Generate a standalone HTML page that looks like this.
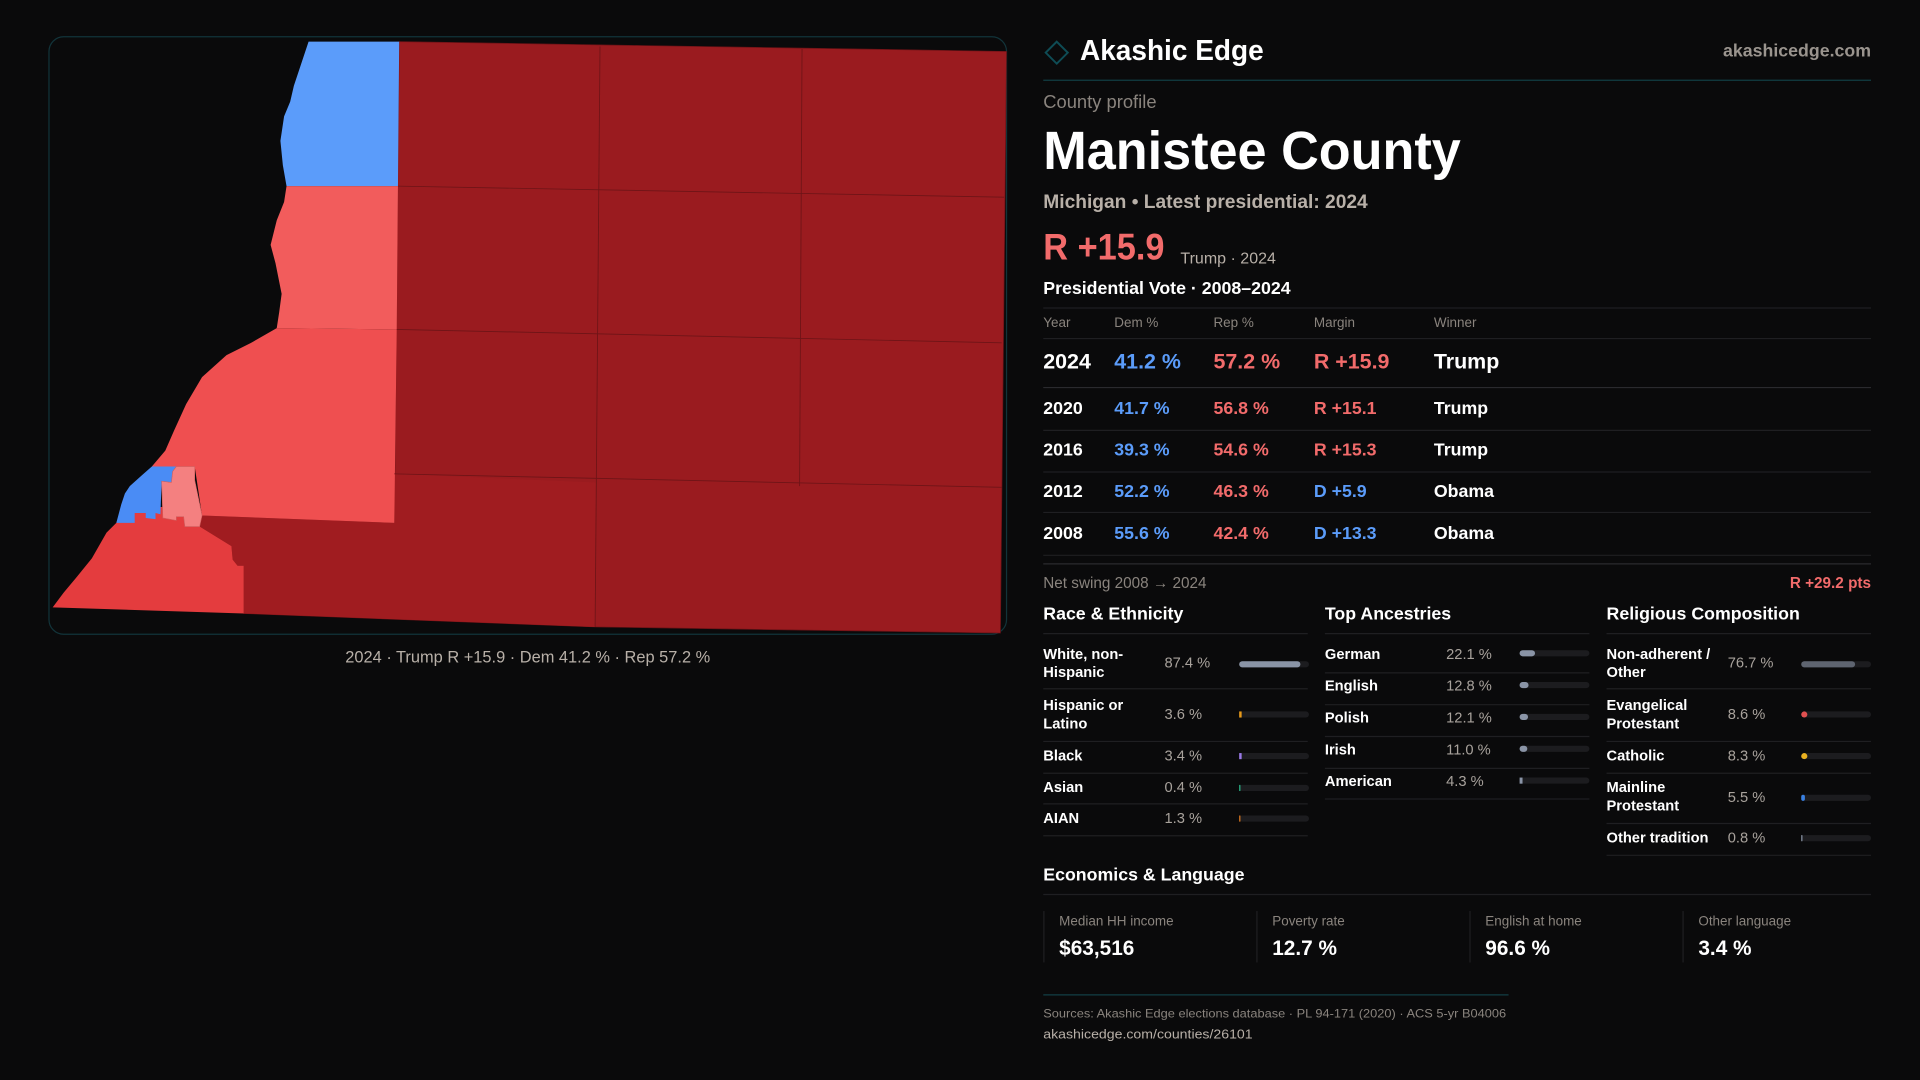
<!DOCTYPE html>
<html><head><meta charset="utf-8"><style>
html,body{margin:0;padding:0;background:#0a0a0b;}
svg{display:block;}
text{font-family:"Liberation Sans",sans-serif;}
</style></head><body>
<svg width="1920" height="1080" viewBox="0 0 1568 882" xmlns="http://www.w3.org/2000/svg">
<rect width="1568" height="882" fill="#0a0a0b"/>
<!-- map frame -->
<rect x="40" y="30" width="782" height="488" rx="12" fill="#0a0a0b" stroke="#12343a" stroke-width="1"/>
<g stroke="#6a1216" stroke-width="0.6">
<polygon fill="#9a1b1f" points="326,34 822,42 817,517 486,512 199,501 199,462 194,462 190,457 189,446 163,430 165,421 322,427"/>
<polygon fill="#a01c20" stroke="none" points="322,387 487,394 486,512 199,501 199,462 194,462 190,457 189,446 163,430 165,421 322,427"/>
<polygon fill="#e43c3e" stroke="none" points="43,496 52,484 62,472 75,456 87,435 95,427 100,414 160,414 165,421 163,430 189,446 190,457 194,462 199,462 199,501"/>
<polygon fill="#5b9cfa" stroke="none" points="252,34 326,34 325,152 234,152 231,135 229,115 232,95 237,83 240,70 245,55"/>
<polygon fill="#f25c5c" stroke="none" points="234,152 325,152 324,269 226,268 228,255 230,240 225,215 221,200 226,180 232,165"/>
<polygon fill="#ef4f50" stroke="none" points="226,268 324,269 322,427 165,421 159,381 124,381 135,368 142,352 152,330 165,308 185,290 205,280"/>
<polygon fill="#4a8cf5" stroke="none" points="124,381 144,381 141,385 140,394 132,393 131,420 127,419 127,424 119,423 119,419 110,419 110,427 95,427 99,412 102,403 106,397 116,388"/>
<polygon fill="#f48080" stroke="#d06060" stroke-width="0.5" points="144,381 159,381 159,392 165,421 163,430 151,430 150,422 144,422 144,425 133,423 132,393 140,394 141,385"/>
</g>
<g stroke="#6e1417" stroke-width="0.7" fill="none">
<line x1="490" y1="38" x2="486" y2="512"/>
<line x1="655" y1="40" x2="653" y2="397"/>
<line x1="325" y1="152" x2="820" y2="161"/>
<line x1="324" y1="269" x2="818" y2="280"/>
<line x1="322" y1="387" x2="818" y2="398"/>
</g>
<text x="431" y="541" text-anchor="middle" font-size="13.5" fill="#b8b0a8" textLength="298" lengthAdjust="spacingAndGlyphs">2024 · Trump R +15.9 · Dem 41.2 % · Rep 57.2 %</text>

<!-- header -->
<polygon points="863,34 872,43 863,52 854,43" fill="none" stroke="#0e4c55" stroke-width="1.6"/>
<text x="882" y="49" font-size="23.5" font-weight="bold" fill="#ffffff" textLength="150" lengthAdjust="spacingAndGlyphs">Akashic Edge</text>
<text x="1528" y="46" text-anchor="end" font-size="14.5" font-weight="bold" fill="#9a948e">akashicedge.com</text>
<line x1="852" y1="65.5" x2="1528" y2="65.5" stroke="#123e44" stroke-width="1"/>
<text x="852" y="88" font-size="15" fill="#8a847e">County profile</text>
<text x="852" y="138" font-size="44" font-weight="bold" fill="#ffffff" textLength="341" lengthAdjust="spacingAndGlyphs">Manistee County</text>
<text x="852" y="170" font-size="16" font-weight="bold" fill="#b8b0a8" textLength="265" lengthAdjust="spacingAndGlyphs">Michigan • Latest presidential: 2024</text>
<text x="852" y="212" font-size="30" font-weight="bold" fill="#f26b6b" textLength="99" lengthAdjust="spacingAndGlyphs">R +15.9</text>
<text x="964" y="215" font-size="12.5" fill="#b8b0a8" textLength="78" lengthAdjust="spacingAndGlyphs">Trump · 2024</text>
<text x="852" y="240" font-size="14.5" font-weight="bold" fill="#ffffff" textLength="202" lengthAdjust="spacingAndGlyphs">Presidential Vote · 2008–2024</text>
<g stroke="#1f1f22" stroke-width="1">
<line x1="852" y1="251.5" x2="1528" y2="251.5"/>
<line x1="852" y1="276.5" x2="1528" y2="276.5"/>
<line x1="852" y1="316.5" x2="1528" y2="316.5" stroke="#2a2a2e"/>
<line x1="852" y1="351.5" x2="1528" y2="351.5"/>
<line x1="852" y1="385.5" x2="1528" y2="385.5"/>
<line x1="852" y1="418.5" x2="1528" y2="418.5"/>
<line x1="852" y1="453.5" x2="1528" y2="453.5"/>
<line x1="852" y1="460.5" x2="1528" y2="460.5" stroke="#2a2a2e"/>
</g>
<g font-size="11" fill="#8a847e">
<text x="852" y="267">Year</text><text x="910" y="267">Dem %</text><text x="991" y="267">Rep %</text><text x="1073" y="267">Margin</text><text x="1171" y="267">Winner</text>
</g>
<g font-size="17.5" font-weight="bold">
<text x="852" y="301" fill="#fff">2024</text><text x="910" y="301" fill="#5b9cfa">41.2 %</text><text x="991" y="301" fill="#f26b6b">57.2 %</text><text x="1073" y="301" fill="#f26b6b">R +15.9</text><text x="1171" y="301" fill="#fff">Trump</text>
</g>
<g font-size="14.5" font-weight="bold">
<text x="852" y="338" fill="#fff">2020</text><text x="910" y="338" fill="#5b9cfa">41.7 %</text><text x="991" y="338" fill="#f26b6b">56.8 %</text><text x="1073" y="338" fill="#f26b6b">R +15.1</text><text x="1171" y="338" fill="#fff">Trump</text>
<text x="852" y="372" fill="#fff">2016</text><text x="910" y="372" fill="#5b9cfa">39.3 %</text><text x="991" y="372" fill="#f26b6b">54.6 %</text><text x="1073" y="372" fill="#f26b6b">R +15.3</text><text x="1171" y="372" fill="#fff">Trump</text>
<text x="852" y="406" fill="#fff">2012</text><text x="910" y="406" fill="#5b9cfa">52.2 %</text><text x="991" y="406" fill="#f26b6b">46.3 %</text><text x="1073" y="406" fill="#5b9cfa">D +5.9</text><text x="1171" y="406" fill="#fff">Obama</text>
<text x="852" y="440" fill="#fff">2008</text><text x="910" y="440" fill="#5b9cfa">55.6 %</text><text x="991" y="440" fill="#f26b6b">42.4 %</text><text x="1073" y="440" fill="#5b9cfa">D +13.3</text><text x="1171" y="440" fill="#fff">Obama</text>
</g>
<text x="852" y="480" font-size="12.5" fill="#8a847e">Net swing 2008 → 2024</text>
<text x="1528" y="480" text-anchor="end" font-size="12.5" font-weight="bold" fill="#f26b6b">R +29.2 pts</text>

<!-- sections -->
<g font-size="14.5" font-weight="bold" fill="#fff">
<text x="852" y="506">Race &amp; Ethnicity</text>
<text x="1082" y="506">Top Ancestries</text>
<text x="1312" y="506">Religious Composition</text>
<text x="852" y="719">Economics &amp; Language</text>
</g>
<g stroke="#1f1f22" stroke-width="1">
<line x1="852" y1="517.5" x2="1068" y2="517.5"/><line x1="1082" y1="517.5" x2="1298" y2="517.5"/><line x1="1312" y1="517.5" x2="1528" y2="517.5"/>
<line x1="852" y1="562.5" x2="1068" y2="562.5"/><line x1="852" y1="605.5" x2="1068" y2="605.5"/><line x1="852" y1="631.5" x2="1068" y2="631.5"/><line x1="852" y1="656.5" x2="1068" y2="656.5"/><line x1="852" y1="682.5" x2="1068" y2="682.5"/>
<line x1="1082" y1="549.5" x2="1298" y2="549.5"/><line x1="1082" y1="575.5" x2="1298" y2="575.5"/><line x1="1082" y1="601.5" x2="1298" y2="601.5"/><line x1="1082" y1="627.5" x2="1298" y2="627.5"/><line x1="1082" y1="652.5" x2="1298" y2="652.5"/>
<line x1="1312" y1="562.5" x2="1528" y2="562.5"/><line x1="1312" y1="605.5" x2="1528" y2="605.5"/><line x1="1312" y1="631.5" x2="1528" y2="631.5"/><line x1="1312" y1="672.5" x2="1528" y2="672.5"/><line x1="1312" y1="698.5" x2="1528" y2="698.5"/>
<line x1="852" y1="730.5" x2="1528" y2="730.5"/>
</g>
<g font-size="12" font-weight="bold" fill="#fff">
<text x="852" y="538">White, non-</text><text x="852" y="553">Hispanic</text>
<text x="852" y="580">Hispanic or</text><text x="852" y="595">Latino</text>
<text x="852" y="621">Black</text><text x="852" y="647">Asian</text><text x="852" y="672">AIAN</text>
<text x="1082" y="538">German</text><text x="1082" y="564">English</text><text x="1082" y="590">Polish</text><text x="1082" y="616">Irish</text><text x="1082" y="642">American</text>
<text x="1312" y="538">Non-adherent /</text><text x="1312" y="553">Other</text>
<text x="1312" y="580">Evangelical</text><text x="1312" y="595">Protestant</text>
<text x="1312" y="621">Catholic</text>
<text x="1312" y="647">Mainline</text><text x="1312" y="662">Protestant</text>
<text x="1312" y="688">Other tradition</text>
</g>
<g font-size="12" fill="#a8a29c">
<text x="951" y="545">87.4 %</text><text x="951" y="587">3.6 %</text><text x="951" y="621">3.4 %</text><text x="951" y="647">0.4 %</text><text x="951" y="672">1.3 %</text>
<text x="1181" y="538">22.1 %</text><text x="1181" y="564">12.8 %</text><text x="1181" y="590">12.1 %</text><text x="1181" y="616">11.0 %</text><text x="1181" y="642">4.3 %</text>
<text x="1411" y="545">76.7 %</text><text x="1411" y="587">8.6 %</text><text x="1411" y="621">8.3 %</text><text x="1411" y="655">5.5 %</text><text x="1411" y="688">0.8 %</text>
</g>
<g fill="#1c1c1f">
<rect x="1012" y="540" width="57" height="5" rx="2.5"/><rect x="1012" y="581" width="57" height="5" rx="2.5"/><rect x="1012" y="615" width="57" height="5" rx="2.5"/><rect x="1012" y="641" width="57" height="5" rx="2.5"/><rect x="1012" y="666" width="57" height="5" rx="2.5"/>
<rect x="1241" y="531" width="57" height="5" rx="2.5"/><rect x="1241" y="557" width="57" height="5" rx="2.5"/><rect x="1241" y="583" width="57" height="5" rx="2.5"/><rect x="1241" y="609" width="57" height="5" rx="2.5"/><rect x="1241" y="635" width="57" height="5" rx="2.5"/>
<rect x="1471" y="540" width="57" height="5" rx="2.5"/><rect x="1471" y="581" width="57" height="5" rx="2.5"/><rect x="1471" y="615" width="57" height="5" rx="2.5"/><rect x="1471" y="649" width="57" height="5" rx="2.5"/><rect x="1471" y="682" width="57" height="5" rx="2.5"/>
</g>
<rect x="1012" y="540" width="50" height="5" rx="2.5" fill="#8a94a6"/>
<rect x="1012" y="581" width="2" height="5" fill="#e89a1a"/>
<rect x="1012" y="615" width="2" height="5" fill="#9a7ae8"/>
<rect x="1012" y="641" width="1" height="5" fill="#2ab88a"/>
<rect x="1012" y="666" width="1" height="5" fill="#e07a20"/>
<rect x="1241" y="531" width="12.6" height="5" rx="2.5" fill="#8a94a6"/>
<rect x="1241" y="557" width="7.3" height="5" rx="2.5" fill="#8a94a6"/>
<rect x="1241" y="583" width="6.9" height="5" rx="2.5" fill="#8a94a6"/>
<rect x="1241" y="609" width="6.3" height="5" rx="2.5" fill="#8a94a6"/>
<rect x="1241" y="635" width="2.4" height="5" fill="#8a94a6"/>
<rect x="1471" y="540" width="44" height="5" rx="2.5" fill="#5e6470"/>
<rect x="1471" y="581" width="5" height="5" rx="2.5" fill="#e05050"/>
<rect x="1471" y="615" width="5" height="5" rx="2.5" fill="#e8b020"/>
<rect x="1471" y="649" width="3" height="5" rx="1.5" fill="#3a80e0"/>
<rect x="1471" y="682" width="1" height="5" fill="#8a94a6"/>

<!-- economics -->
<g stroke="#1f1f22" stroke-width="1">
<line x1="852.5" y1="744" x2="852.5" y2="786"/><line x1="1026.5" y1="744" x2="1026.5" y2="786"/><line x1="1200.5" y1="744" x2="1200.5" y2="786"/><line x1="1374.5" y1="744" x2="1374.5" y2="786"/>
</g>
<g font-size="11" fill="#8a847e">
<text x="865" y="756">Median HH income</text><text x="1039" y="756">Poverty rate</text><text x="1213" y="756">English at home</text><text x="1387" y="756">Other language</text>
</g>
<g font-size="17" font-weight="bold" fill="#fff">
<text x="865" y="780">$63,516</text><text x="1039" y="780">12.7 %</text><text x="1213" y="780">96.6 %</text><text x="1387" y="780">3.4 %</text>
</g>
<line x1="852" y1="812.5" x2="1232" y2="812.5" stroke="#123e44" stroke-width="1"/>
<text x="852" y="831" font-size="10" fill="#8a847e" textLength="378" lengthAdjust="spacingAndGlyphs">Sources: Akashic Edge elections database · PL 94-171 (2020) · ACS 5-yr B04006</text>
<text x="852" y="848" font-size="10.5" fill="#b8b0a8" textLength="171" lengthAdjust="spacingAndGlyphs">akashicedge.com/counties/26101</text>
</svg>
</body></html>
